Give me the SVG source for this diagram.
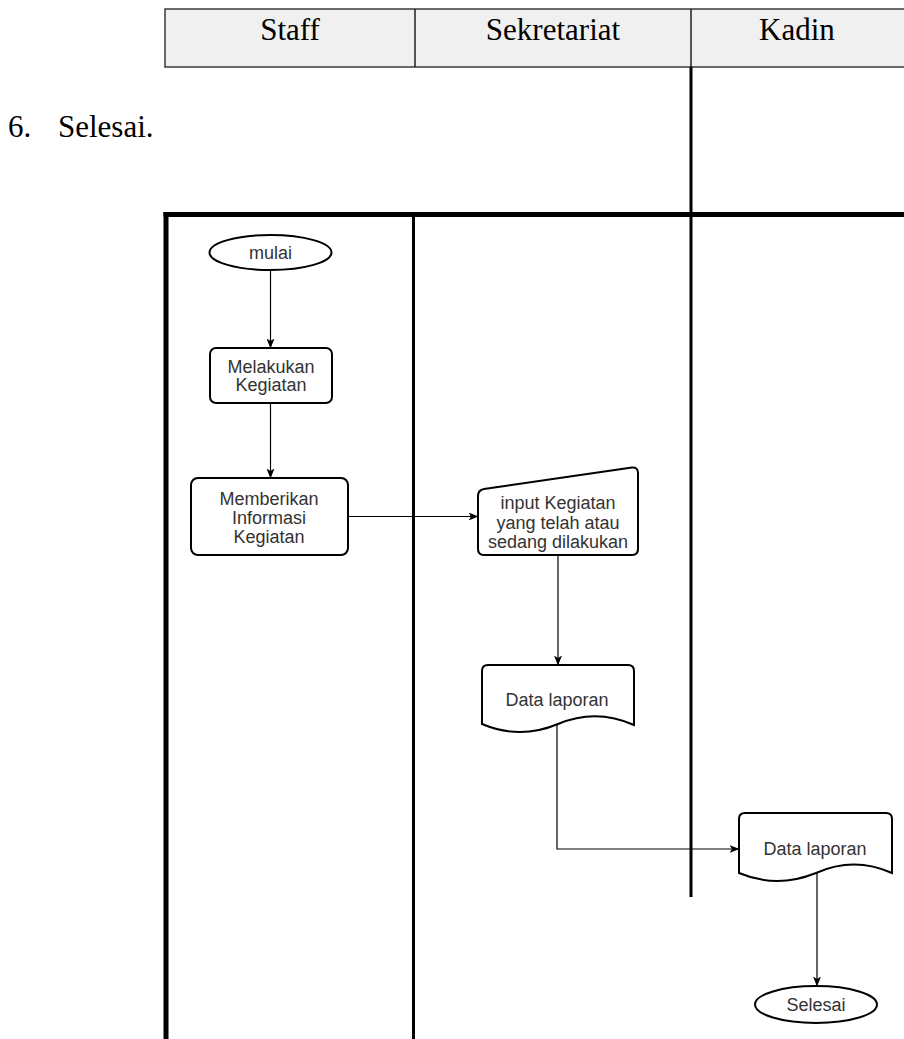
<svg xmlns="http://www.w3.org/2000/svg" width="904" height="1039" viewBox="0 0 904 1039">
<style>
.hdr{fill:#f0f0f0;stroke:#3a3a3a;stroke-width:1.5}
.hdiv{stroke:#222;stroke-width:1.5}
.ht{font-family:"Liberation Serif","Times New Roman",serif;font-size:31px;fill:#000;text-anchor:middle}
.lane{stroke:#000;fill:none}
.shape{fill:#fff;stroke:#000;stroke-width:2}
.lbl{font-family:"Liberation Sans",Arial,sans-serif;font-size:18px;fill:#333;text-anchor:middle}
.conn{fill:none;stroke:#000;stroke-width:1.2}
</style>
<defs>
<marker id="arr" viewBox="0 0 10 8" refX="9.5" refY="4" markerWidth="10" markerHeight="8" markerUnits="userSpaceOnUse" orient="auto">
<path d="M0,0 L10,4 L0,8 L2.5,4 Z" fill="#000"/>
</marker>
</defs>
<rect width="904" height="1039" fill="#fff"/>
<g id="header">
<rect class="hdr" x="165" y="9" width="745" height="58"/>
<line class="hdiv" x1="415" y1="9" x2="415" y2="67"/>
<line class="hdiv" x1="691" y1="9" x2="691" y2="67"/>
<text class="ht" x="290" y="40">Staff</text>
<text class="ht" x="553" y="40">Sekretariat</text>
<text class="ht" x="797" y="40">Kadin</text>
</g>
<g id="caption">
<text x="8" y="137" font-family="Liberation Serif,'Times New Roman',serif" font-size="31" fill="#000">6.</text>
<text x="58" y="137" font-family="Liberation Serif,'Times New Roman',serif" font-size="31" fill="#000">Selesai.</text>
</g>
<g id="pool">
<line class="lane" x1="691" y1="67" x2="691" y2="897" stroke-width="3"/>
<line class="lane" x1="163.5" y1="214.5" x2="904" y2="214.5" stroke-width="5"/>
<line class="lane" x1="166" y1="212" x2="166" y2="1039" stroke-width="5"/>
<line class="lane" x1="413.5" y1="214" x2="413.5" y2="1039" stroke-width="3"/>
</g>
<g id="connectors">
<line class="conn" x1="270.5" y1="270" x2="270.5" y2="348" marker-end="url(#arr)"/>
<line class="conn" x1="270.5" y1="403" x2="270.5" y2="478" marker-end="url(#arr)"/>
<line class="conn" x1="348" y1="516.5" x2="478" y2="516.5" marker-end="url(#arr)"/>
<line class="conn" x1="558" y1="555" x2="558" y2="665" marker-end="url(#arr)"/>
<polyline class="conn" points="557,724 557,849 739,849" marker-end="url(#arr)"/>
<line class="conn" x1="817" y1="873" x2="817" y2="986" marker-end="url(#arr)"/>
</g>
<g id="mulai">
<ellipse class="shape" cx="270.5" cy="252.5" rx="61" ry="17.5"/>
<text class="lbl" x="270.5" y="259">mulai</text>
</g>
<g id="melakukan">
<rect class="shape" x="210" y="348" width="122" height="55" rx="6"/>
<text class="lbl" x="271" y="373">Melakukan</text>
<text class="lbl" x="271" y="391">Kegiatan</text>
</g>
<g id="memberikan">
<rect class="shape" x="191" y="478" width="157" height="77" rx="7"/>
<text class="lbl" x="269" y="505">Memberikan</text>
<text class="lbl" x="269" y="524">Informasi</text>
<text class="lbl" x="269" y="543">Kegiatan</text>
</g>
<g id="input">
<path class="shape" d="M484,489 L632,467.5 Q638,467 638,473 L638,549 Q638,555 632,555 L484,555 Q478,555 478,549 L478,496 Q478,490 484,489 Z"/>
<text class="lbl" x="558" y="509">input Kegiatan</text>
<text class="lbl" x="558" y="529">yang telah atau</text>
<text class="lbl" x="558" y="548">sedang dilakukan</text>
</g>
<g id="doc1">
<path class="shape" d="M482,724 L482,671 Q482,665 488,665 L628,665 Q634,665 634,671 L634,725 Q596,708 558,724 Q520,740 482,724 Z"/>
<text class="lbl" x="557" y="706">Data laporan</text>
</g>
<g id="doc2">
<path class="shape" d="M739,873 L739,819 Q739,813 745,813 L886,813 Q892,813 892,819 L892,873 Q854,856 816,873 Q777,889 739,873 Z"/>
<text class="lbl" x="815" y="855">Data laporan</text>
</g>
<g id="selesai">
<ellipse class="shape" cx="816" cy="1004.5" rx="61" ry="18.5"/>
<text class="lbl" x="816" y="1011">Selesai</text>
</g>
</svg>
